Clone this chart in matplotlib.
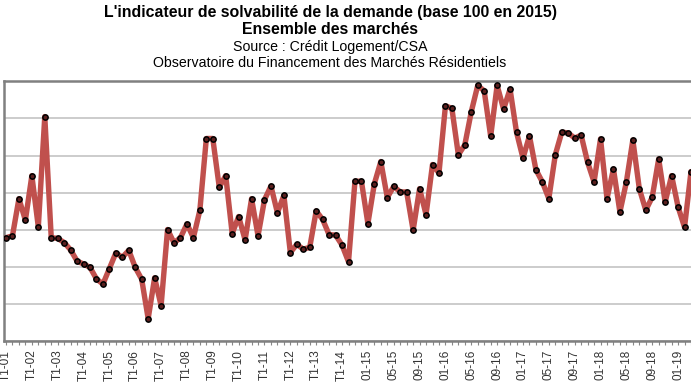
import matplotlib
matplotlib.use('Agg')
import matplotlib.pyplot as plt

plt.rcParams['font.family'] = ['Liberation Sans', 'DejaVu Sans']

# quarterly values 2001-2014 (T1-01 .. T4-14), then monthly from 01-15
quarterly = [87.9, 88.4, 98.4, 92.6, 104.6, 90.8, 120.5, 87.9,
             87.7, 86.6, 84.6, 81.6, 80.8, 79.9, 76.8, 75.4,
             79.6, 83.8, 82.6, 84.5, 79.9, 76.7, 66.1, 77.1,
             69.6, 90.1, 86.5, 87.9, 91.6, 87.9, 95.3, 114.6,
             114.6, 101.5, 104.6, 89.0, 93.6, 87.3, 98.4, 88.4,
             98.1, 101.8, 94.6, 99.3, 83.9, 86.1, 84.8, 85.3,
             95.1, 92.8, 88.7, 88.6, 85.9, 81.4, 103.1, 103.1]
monthly = [91.7, 102.4, 108.4, 98.7, 101.7, 100.2, 100.2, 89.9,
           101.1, 94.1, 107.6, 105.3, 123.4, 122.7, 110.2, 112.9,
           121.8, 128.9, 127.4, 115.2, 128.9, 122.5, 127.9, 116.3,
           109.3, 115.3, 106.2, 102.9, 98.4, 110.2, 116.3, 116.1,
           114.7, 115.5, 108.2, 102.9, 114.5, 98.4, 106.4, 94.8,
           102.9, 114.2, 101.1, 95.3, 98.8, 109.1, 97.5, 104.6,
           96.2, 90.7, 105.7]

tick_labels = ['T1-01', 'T1-02', 'T1-03', 'T1-04', 'T1-05', 'T1-06', 'T1-07',
               'T1-08', 'T1-09', 'T1-10', 'T1-11', 'T1-12', 'T1-13', 'T1-14',
               '01-15', '05-15', '09-15', '01-16', '05-16', '09-16', '01-17',
               '05-17', '09-17', '01-18', '05-18', '09-18', '01-19']

values = quarterly + monthly
x = list(range(len(values)))

fig = plt.figure(figsize=(6.91, 3.89), dpi=100, facecolor='white')
ax = fig.add_axes([4 / 691, 0.1226, 1 - 4 / 691, 0.791 - 0.1226])

ax.plot(x, values, color='#C0504D', linewidth=3.9, solid_joinstyle='round',
        solid_capstyle='round', marker='o', markersize=3.8,
        markerfacecolor='#5a1f1e', markeredgecolor='black',
        markeredgewidth=1.1, zorder=3)

ax.set_xlim(-0.31, 105.6)
ax.set_ylim(60, 130)
ax.set_yticks(range(60, 131, 10))
ax.set_yticklabels([])
ax.tick_params(axis='y', length=0)
ax.grid(axis='y', color='#c4c4c4', linewidth=1.2)
ax.set_axisbelow(True)

ax.set_xticks(range(0, len(tick_labels) * 4, 4))
ax.set_xticklabels(tick_labels, rotation=90, fontsize=8.5, color='#333333')
ax.set_xticks(x, minor=True)
ax.tick_params(axis='x', which='both', length=3, color='#888888', width=0.8, pad=3)

for side in ['left', 'top', 'bottom']:
    ax.spines[side].set_color('#808080')
    ax.spines[side].set_linewidth(1.8)
ax.spines['right'].set_visible(False)

cx = 330 / 691
fig.text(cx, 1 - 12 / 389, "L'indicateur de solvabilité de la demande (base 100 en 2015)",
         ha='center', va='center', fontsize=11.4, fontweight='bold')
fig.text(cx, 1 - 30 / 389, 'Ensemble des marchés',
         ha='center', va='center', fontsize=11.4, fontweight='bold')
fig.text(cx, 1 - 47 / 389, 'Source : Crédit Logement/CSA',
         ha='center', va='center', fontsize=10.2)
fig.text(cx, 1 - 63 / 389, 'Observatoire du Financement des Marchés Résidentiels',
         ha='center', va='center', fontsize=10.2)

fig.savefig('out.png', dpi=100, facecolor='white')
